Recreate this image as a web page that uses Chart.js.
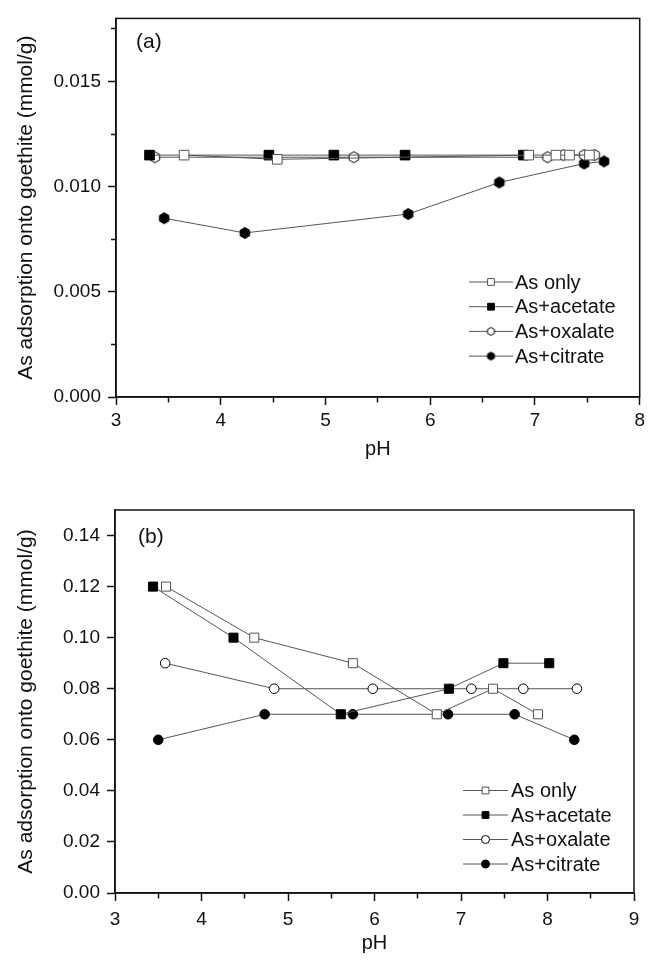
<!DOCTYPE html>
<html>
<head>
<meta charset="utf-8">
<script src="https://cdn.jsdelivr.net/npm/chart.js@4.4.0/dist/chart.umd.min.js"></script>
<style>
  html, body { margin: 0; padding: 0; background: #fff; }
  #wrap { width: 649px; height: 960px; position: relative; }
  .box { position: absolute; left: 0; width: 649px; height: 480px; }
</style>
</head>
<body>
<div id="wrap">
  <div class="box" style="top:0"><canvas id="chartA" width="649" height="480"></canvas></div>
  <div class="box" style="top:480px"><canvas id="chartB" width="649" height="480"></canvas></div>
</div>
<script>
// series names (same in both panels)
const seriesNames = ['As only', 'As+acetate', 'As+oxalate', 'As+citrate'];
const yTitle = 'As adsorption onto goethite (mmol/g)';
const xTitle = 'pH';

// panel (a): pH / adsorption (mmol/g)
const aOnlyPH = [3.65, 4.54, 6.94, 7.20, 7.33, 7.52];
const aOnlyVal = [0.0115, 0.0113, 0.0115, 0.0115, 0.0115, 0.0115];
const aAcetatePH = [3.32, 4.46, 5.08, 5.76, 6.89];
const aAcetateVal = [0.0115, 0.0115, 0.0115, 0.0115, 0.0115];
const aOxalatePH = [3.37, 5.27, 7.12, 7.27, 7.47, 7.57];
const aOxalateVal = [0.0114, 0.0114, 0.0114, 0.0115, 0.0115, 0.0115];
const aCitratePH = [3.46, 4.23, 5.79, 6.66, 7.47, 7.66];
const aCitrateVal = [0.0085, 0.0078, 0.0087, 0.0102, 0.0111, 0.0112];

// panel (b)
const bOnlyPH = [3.59, 4.61, 5.75, 6.72, 7.37, 7.89];
const bOnlyVal = [0.12, 0.10, 0.09, 0.07, 0.08, 0.07];
const bAcetatePH = [3.44, 4.37, 5.61, 6.86, 7.49, 8.02];
const bAcetateVal = [0.12, 0.10, 0.07, 0.08, 0.09, 0.09];
const bOxalatePH = [3.58, 4.84, 5.98, 7.12, 7.72, 8.34];
const bOxalateVal = [0.09, 0.08, 0.08, 0.08, 0.08, 0.08];
const bCitratePH = [3.50, 4.73, 5.75, 6.85, 7.62, 8.31];
const bCitrateVal = [0.06, 0.07, 0.07, 0.07, 0.07, 0.06];

// axis ranges
const aXRange = [3, 8];
const aYRange = [0, 0.018];
const bXRange = [3, 9];
const bYRange = [0, 0.15];

const FONT = '"Liberation Sans", Arial, sans-serif';
const INK = '#111';
const LINE = '#555';

function pts(xs, ys) {
  return xs.map((x, i) => ({ x: x, y: ys[i] }));
}

// hexagon marker, chart.js draws a canvas pointStyle at its own size
function hexMarker(r, filled) {
  const s = Math.ceil(r * 2 + 3);
  const c = document.createElement('canvas');
  c.width = s; c.height = s;
  const g = c.getContext('2d');
  g.beginPath();
  for (let k = 0; k < 6; k++) {
    const t = Math.PI / 6 + k * Math.PI / 3;
    const px = s / 2 + r * Math.cos(t), py = s / 2 + r * Math.sin(t);
    if (k === 0) g.moveTo(px, py); else g.lineTo(px, py);
  }
  g.closePath();
  g.fillStyle = filled ? '#000' : '#fff';
  g.fill();
  g.lineWidth = 1;
  g.strokeStyle = '#000';
  g.stroke();
  return c;
}

function series(label, data, style, fill, edge, radius, legendStyle, legendRadius) {
  return {
    label: label,
    data: data,
    borderColor: LINE,
    borderWidth: 1,
    tension: 0,
    pointStyle: style,
    pointRadius: radius,
    pointHoverRadius: radius,
    pointBackgroundColor: fill,
    pointBorderColor: edge,
    pointBorderWidth: 1,
    legendStyle: legendStyle,
    legendRadius: legendRadius
  };
}

// frame, panel tag and the "—□—" style legend
const framePlugin = {
  id: 'frame',
  afterDraw(chart, args, o) {
    const { ctx, chartArea: a } = chart;
    ctx.save();
    ctx.strokeStyle = INK;
    ctx.lineWidth = 1.5;
    ctx.strokeRect(a.left, a.top, a.right - a.left, a.bottom - a.top);

    ctx.fillStyle = INK;
    ctx.textAlign = 'left';
    ctx.textBaseline = 'middle';
    ctx.font = '21px ' + FONT;
    ctx.fillText(o.tag, o.tagX, o.tagY);

    ctx.font = '20px ' + FONT;
    chart.data.datasets.forEach((ds, i) => {
      const y = o.legY + i * o.legGap;
      ctx.strokeStyle = LINE;
      ctx.lineWidth = 1;
      ctx.beginPath();
      ctx.moveTo(o.legX, y);
      ctx.lineTo(o.legX + o.legLen, y);
      ctx.stroke();
      ctx.fillStyle = ds.pointBackgroundColor;
      ctx.strokeStyle = ds.pointBorderColor;
      Chart.helpers.drawPoint(ctx, {
        pointStyle: ds.legendStyle, radius: ds.legendRadius, rotation: 0, borderWidth: 1
      }, o.legX + o.legLen / 2, y);
      ctx.fillStyle = INK;
      ctx.fillText(ds.label, o.legTextX, y + 1);
    });
    ctx.restore();
  }
};

// minor ticks: draw only the part next to the axis line
const TL = 8, MINOR = 5;
function isMinor(ctx, step) {
  return ctx.tick && Math.round(ctx.tick.value / step) % 2 !== 0;
}

function makeChart(id, datasets, xr, yr, yStep, yDigits, lay) {
  return new Chart(document.getElementById(id), {
    type: 'line',
    data: { datasets: datasets },
    plugins: [framePlugin],
    options: {
      responsive: false,
      animation: false,
      layout: { padding: { left: 0, right: lay.right, top: lay.top, bottom: 0 } },
      plugins: {
        legend: { display: false },
        tooltip: { enabled: false },
        frame: lay.frame
      },
      scales: {
        x: {
          type: 'linear',
          min: xr[0], max: xr[1],
          afterFit: s => { s.height = lay.xHeight; },
          ticks: {
            stepSize: 0.5,
            autoSkip: false,
            maxRotation: 0,
            padding: lay.xTickPad,
            color: INK,
            font: { family: FONT, size: 19 },
            callback: v => Number.isInteger(v) ? String(v) : ''
          },
          grid: {
            drawOnChartArea: false, drawTicks: true, tickLength: TL, tickColor: INK, tickWidth: 1.5,
            tickBorderDash: c => isMinor(c, 0.5) ? [MINOR, 20] : []
          },
          border: { display: true, color: INK, width: 1.5 },
          title: {
            display: true, text: xTitle, color: INK,
            font: { family: FONT, size: 20 },
            padding: { top: 0, bottom: lay.xTitlePad }
          }
        },
        y: {
          type: 'linear',
          min: yr[0], max: yr[1],
          afterFit: s => { s.width = lay.yWidth; },
          ticks: {
            stepSize: yStep,
            includeBounds: false,
            padding: 7,
            color: INK,
            font: { family: FONT, size: 19 },
            callback: v => Math.round(v / yStep) % 2 === 0 ? v.toFixed(yDigits) : ''
          },
          grid: {
            drawOnChartArea: false, drawTicks: true, tickLength: TL, tickColor: INK, tickWidth: 1.5,
            tickBorderDash: c => isMinor(c, yStep) ? [0, TL - MINOR, MINOR, 20] : []
          },
          border: { display: true, color: INK, width: 1.5 },
          title: {
            display: true, text: yTitle, color: INK,
            font: { family: FONT, size: 21 },
            padding: { top: 14, bottom: 0 }
          }
        }
      }
    }
  });
}

const hexOpen = hexMarker(5.5, false), hexFill = hexMarker(5.5, true);
const hexOpenSm = hexMarker(4, false), hexFillSm = hexMarker(4, true);

makeChart('chartA', [
  series(seriesNames[0], pts(aOnlyPH, aOnlyVal), 'rect', '#fff', LINE, 6.8, 'rect', 4.8),
  series(seriesNames[1], pts(aAcetatePH, aAcetateVal), 'rect', '#000', '#000', 6.8, 'rect', 4.8),
  series(seriesNames[2], pts(aOxalatePH, aOxalateVal), hexOpen, '#fff', '#000', 5.5, hexOpenSm, 4),
  series(seriesNames[3], pts(aCitratePH, aCitrateVal), hexFill, '#000', '#000', 5.5, hexFillSm, 4)
], aXRange, aYRange, 0.0025, 3, {
  right: 7, top: 12, xHeight: 83, yWidth: 116, xTitlePad: 19, xTickPad: 4,
  frame: { tag: '(a)', tagX: 136, tagY: 42, legX: 469, legLen: 44, legTextX: 515, legY: 282, legGap: 24.7 }
});

makeChart('chartB', [
  series(seriesNames[0], pts(bOnlyPH, bOnlyVal), 'rect', '#fff', LINE, 6.4, 'rect', 4.8),
  series(seriesNames[1], pts(bAcetatePH, bAcetateVal), 'rect', '#000', '#000', 6.4, 'rect', 4.8),
  series(seriesNames[2], pts(bOxalatePH, bOxalateVal), 'circle', '#fff', '#000', 4.8, 'circle', 4),
  series(seriesNames[3], pts(bCitratePH, bCitrateVal), 'circle', '#000', '#000', 4.8, 'circle', 4)
], bXRange, bYRange, 0.01, 2, {
  right: 15, top: 30, xHeight: 67, yWidth: 115, xTitlePad: 5, xTickPad: 7,
  frame: { tag: '(b)', tagX: 138, tagY: 57, legX: 463, legLen: 45, legTextX: 511, legY: 310.5, legGap: 24.5 }
});
</script>
</body>
</html>
